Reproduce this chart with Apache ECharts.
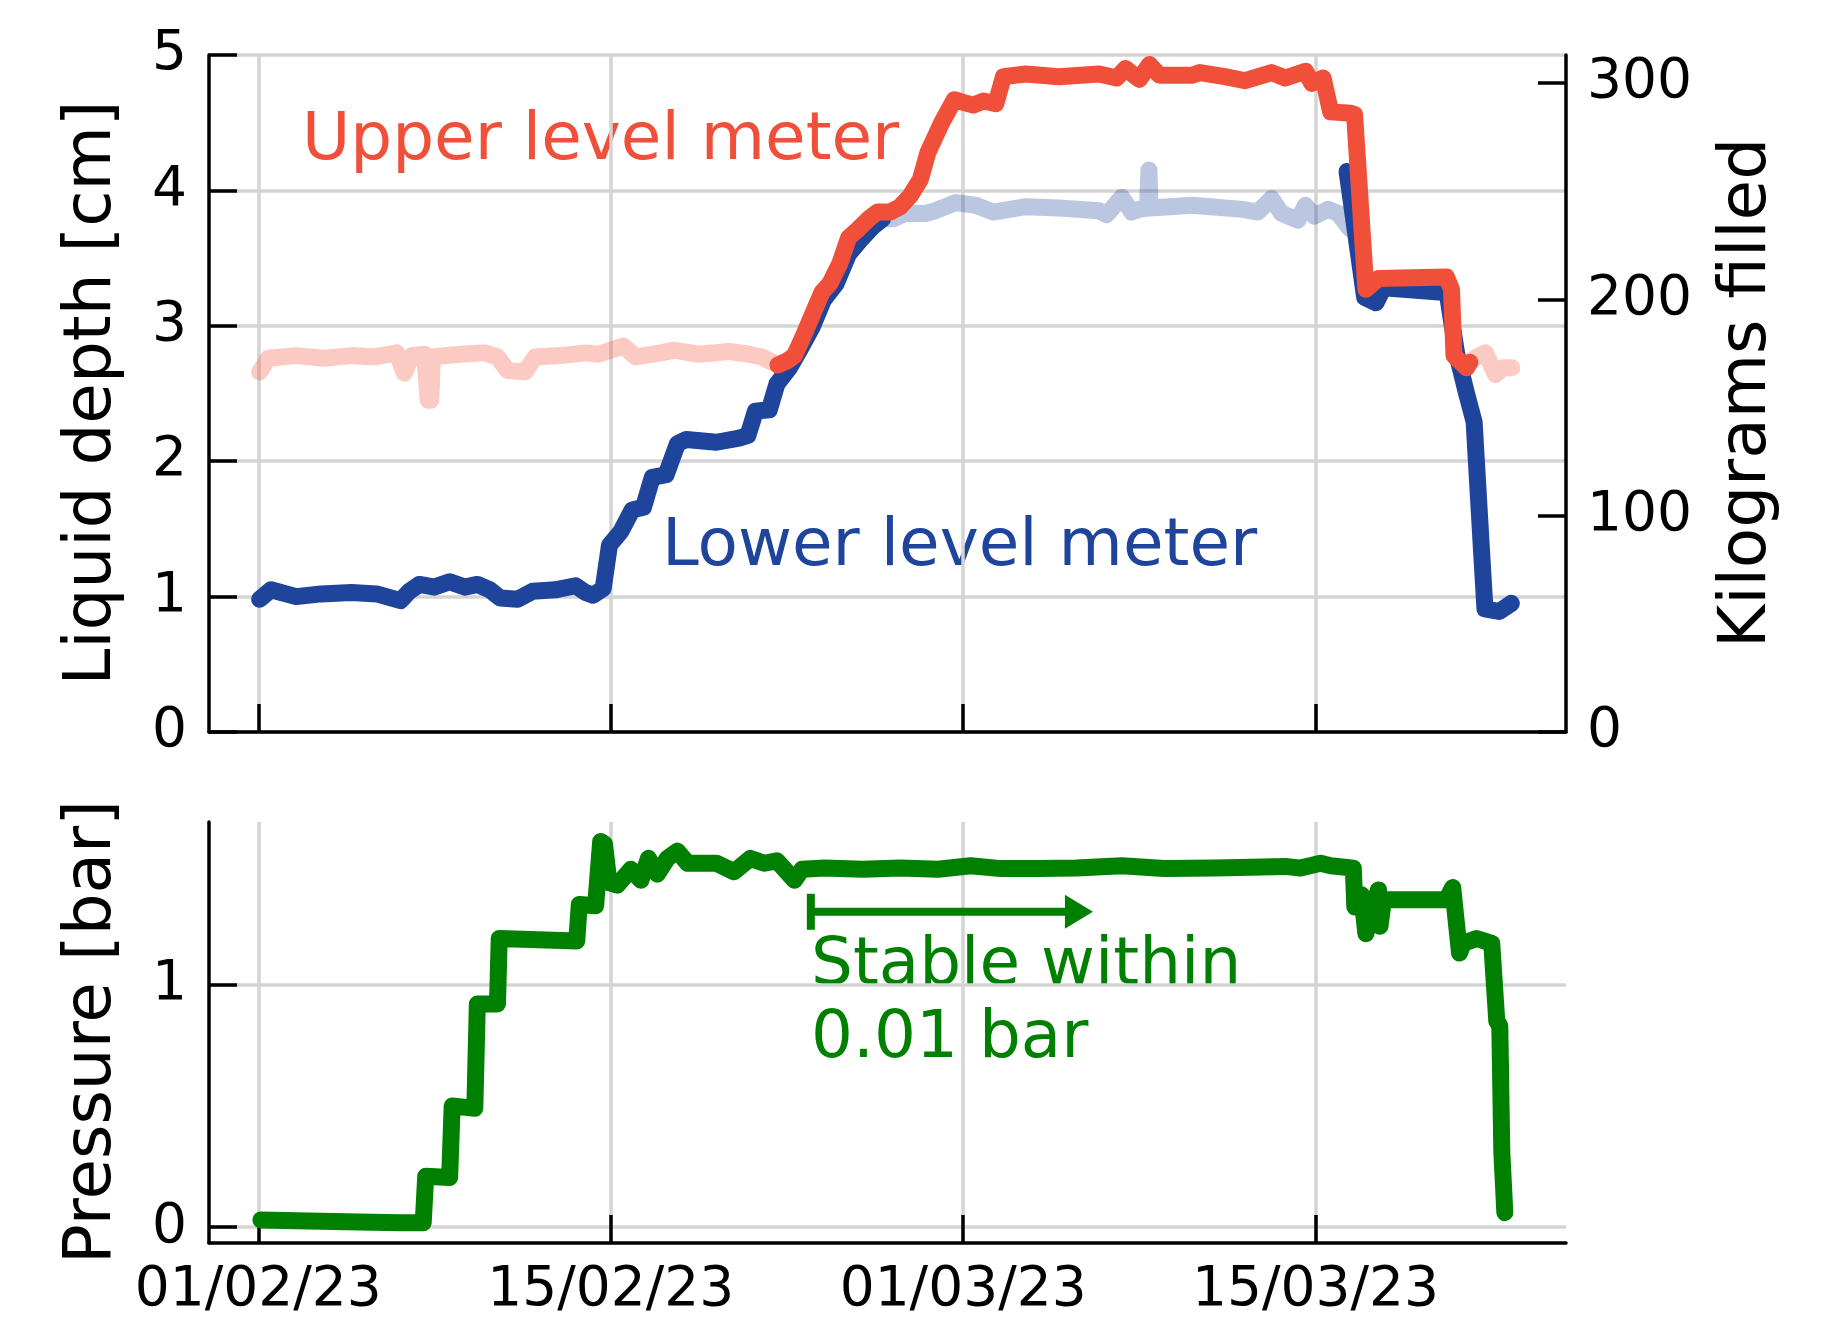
<!DOCTYPE html>
<html>
<head>
<meta charset="utf-8">
<script src="https://cdn.jsdelivr.net/npm/echarts@6/dist/echarts.min.js"></script>
<style>
  html, body { margin: 0; padding: 0; background: #fff; }
  #chart { width: 1833px; height: 1321px; }
</style>
</head>
<body>
<div id="chart"></div>
<script>
// x values are days counted from 01/02/23
const tickDays = [0, 14, 28, 42];
const tickLabels = ["01/02/23", "15/02/23", "01/03/23", "15/03/23"];
const kgTicks = [0, 100, 200, 300];
const pressureTicks = [0, 1];

// upper level meter [cm], faded where out of range
const upperPaleA = [
  [0.05, 2.66], [0.4, 2.76], [1.5, 2.78], [2.6, 2.76], [3.7, 2.78], [4.6, 2.77],
  [5.5, 2.8], [5.8, 2.65], [6.1, 2.78], [6.6, 2.79], [6.75, 2.45], [6.85, 2.45],
  [6.92, 2.77], [8.0, 2.79], [9.0, 2.8], [9.5, 2.77], [9.9, 2.67], [10.6, 2.66],
  [11.0, 2.77], [12.0, 2.78], [13.0, 2.8], [13.5, 2.79], [14.0, 2.82], [14.5, 2.85],
  [15.0, 2.77], [16.0, 2.8], [16.5, 2.82], [17.5, 2.79], [18.7, 2.81], [19.5, 2.79],
  [20.0, 2.77], [20.64, 2.71]
];
const upperSolid = [
  [20.64, 2.71], [21.0, 2.74], [21.3, 2.78], [21.64, 2.92], [22.03, 3.09], [22.4, 3.25],
  [22.7, 3.31], [23.1, 3.46], [23.45, 3.65], [23.75, 3.70], [24.25, 3.79], [24.6, 3.84],
  [25.1, 3.84], [25.5, 3.88], [25.9, 3.96], [26.3, 4.08], [26.6, 4.28], [27.15, 4.5],
  [27.65, 4.67], [28.0, 4.65], [28.4, 4.63], [28.8, 4.66], [29.3, 4.64], [29.6, 4.84],
  [30.5, 4.86], [31.8, 4.84], [33.4, 4.86], [34.1, 4.83], [34.45, 4.9], [35.0, 4.82],
  [35.4, 4.93], [35.8, 4.85], [37.1, 4.85], [37.4, 4.87], [38.4, 4.84], [39.2, 4.81],
  [40.25, 4.87], [40.8, 4.83], [41.6, 4.88], [41.85, 4.79], [42.3, 4.83], [42.6, 4.58],
  [43.4, 4.57], [43.55, 4.56], [44.0, 3.27], [44.5, 3.35], [47.2, 3.36], [47.4, 3.27],
  [47.5, 2.78], [48.0, 2.69], [48.13, 2.73]
];
const upperPaleB = [
  [48.13, 2.73], [48.4, 2.77], [48.75, 2.8], [49.15, 2.64], [49.45, 2.69], [49.8, 2.69]
];

// lower level meter [cm], faded where saturated
const lowerSolidA = [
  [0.05, 0.98], [0.5, 1.05], [1.5, 1.0], [2.5, 1.02], [3.7, 1.03], [4.7, 1.02],
  [5.65, 0.97], [6.0, 1.04], [6.4, 1.09], [7.0, 1.07], [7.6, 1.11], [8.2, 1.07],
  [8.7, 1.09], [9.2, 1.05], [9.6, 0.99], [10.3, 0.98], [10.9, 1.04], [11.8, 1.05],
  [12.6, 1.08], [13.0, 1.03], [13.3, 1.01], [13.7, 1.06], [13.95, 1.38], [14.4, 1.48],
  [14.85, 1.64], [15.3, 1.66], [15.65, 1.88], [16.2, 1.9], [16.65, 2.13], [17.0, 2.16],
  [18.2, 2.14], [19.1, 2.17], [19.45, 2.19], [19.75, 2.37], [20.3, 2.38], [20.6, 2.57],
  [21.1, 2.69], [21.5, 2.82], [22.0, 2.99], [22.45, 3.19], [22.95, 3.31], [23.45, 3.53],
  [23.9, 3.63], [24.4, 3.73], [24.8, 3.79]
];
const lowerPale = [
  [24.8, 3.79], [25.2, 3.79], [25.7, 3.83], [26.5, 3.83], [26.9, 3.85], [27.7, 3.91],
  [28.5, 3.89], [29.2, 3.84], [30.5, 3.88], [31.8, 3.87], [33.4, 3.85], [33.7, 3.82],
  [34.3, 3.95], [34.7, 3.84], [35.0, 3.86], [35.33, 3.87], [35.38, 4.15], [35.43, 3.87],
  [37.1, 3.89], [39.1, 3.86], [39.7, 3.84], [40.25, 3.94], [40.65, 3.83], [41.3, 3.78],
  [41.6, 3.89], [41.95, 3.81], [42.5, 3.86], [42.9, 3.83], [43.35, 3.72]
];
const lowerSolidB = [
  [43.25, 4.14], [43.95, 3.21], [44.4, 3.17], [44.7, 3.28], [46.9, 3.25], [47.2, 3.28],
  [47.6, 2.8], [48.0, 2.5], [48.3, 2.29], [48.6, 1.32], [48.73, 0.91], [49.3, 0.89],
  [49.78, 0.95]
];

// pressure [bar]
const pressure = [
  [0.1, 0.03], [2.0, 0.026], [4.0, 0.022], [5.7, 0.018], [6.55, 0.018], [6.65, 0.21],
  [7.6, 0.205], [7.7, 0.5], [8.6, 0.49], [8.7, 0.92], [9.5, 0.92], [9.57, 1.19],
  [12.65, 1.18], [12.75, 1.33], [13.4, 1.325], [13.6, 1.59], [13.75, 1.58], [13.93, 1.42],
  [14.26, 1.41], [14.8, 1.475], [15.2, 1.43], [15.5, 1.52], [15.85, 1.455], [16.25, 1.52],
  [16.65, 1.55], [17.05, 1.5], [18.2, 1.5], [18.9, 1.465], [19.55, 1.52], [20.1, 1.5],
  [20.6, 1.51], [21.3, 1.43], [21.6, 1.475], [22.5, 1.48], [24.0, 1.475], [25.5, 1.48],
  [27.0, 1.475], [28.3, 1.49], [29.5, 1.478], [31.0, 1.478], [32.5, 1.48], [34.3, 1.49],
  [36.0, 1.478], [38.0, 1.48], [40.8, 1.487], [41.4, 1.48], [42.2, 1.5], [42.6, 1.49],
  [43.5, 1.48], [43.56, 1.32], [43.83, 1.37], [44.0, 1.21], [44.5, 1.39], [44.56, 1.24],
  [44.7, 1.35], [47.2, 1.35], [47.45, 1.4], [47.72, 1.13], [47.87, 1.17], [48.4, 1.19],
  [49.0, 1.17], [49.2, 0.85], [49.32, 0.83], [49.4, 0.31], [49.52, 0.06]
];

// "stable within 0.01 bar" arrow
const stableFrom = [21.95, 1.3];
const stableTo = [33.1, 1.3];

const RED = "#F05039";
const BLUE = "#1F449C";
const GREEN = "#008000";
const GRID = "#d4d4d4";
const FONT = "DejaVu Sans";
const TEXT_FONT = "66px 'DejaVu Sans'";

const chart = echarts.init(document.getElementById("chart"));

const spine = { show: true, onZero: false, lineStyle: { color: "#000", width: 3.5 } };
const tick = (vals) => ({
  show: true, inside: true, length: 28, customValues: vals,
  lineStyle: { color: "#000", width: 3.5 }
});
const label = { fontSize: 55, color: "#000", fontFamily: FONT };

function line(data, color, opacity, xi, yi, z) {
  return {
    type: "line", xAxisIndex: xi, yAxisIndex: yi, data: data,
    symbol: "none", z: z, silent: true,
    lineStyle: { color: color, width: 17, opacity: opacity, cap: "round", join: "round" }
  };
}

chart.setOption({
  animation: false,
  backgroundColor: "#fff",
  textStyle: { fontFamily: FONT },
  grid: [
    { left: 209, top: 55, width: 1357, height: 677 },
    { left: 209, top: 822, width: 1357, height: 421 }
  ],
  xAxis: [
    {
      gridIndex: 0, type: "value", min: -1.96, max: 51.95,
      axisLine: spine, axisTick: tick(tickDays),
      axisLabel: { show: false },
      splitLine: { show: true, lineStyle: { color: GRID, width: 3.5 } }
    },
    {
      gridIndex: 1, type: "value", min: -1.96, max: 51.95,
      axisLine: spine, axisTick: tick(tickDays),
      axisLabel: Object.assign({
        customValues: tickDays, margin: 20,
        formatter: (v) => tickLabels[tickDays.indexOf(v)]
      }, label),
      splitLine: { show: true, lineStyle: { color: GRID, width: 3.5 } }
    }
  ],
  yAxis: [
    {
      gridIndex: 0, type: "value", position: "left", min: 0, max: 5, interval: 1,
      axisLine: spine,
      axisTick: { show: true, inside: true, length: 28, lineStyle: { color: "#000", width: 3.5 } },
      axisLabel: Object.assign({ margin: 22 }, label),
      splitLine: { show: true, lineStyle: { color: GRID, width: 3.5 } }
    },
    {
      gridIndex: 0, type: "value", position: "right", min: 0, max: 313,
      axisLine: spine, axisTick: tick(kgTicks),
      axisLabel: Object.assign({ customValues: kgTicks, margin: 21 }, label),
      splitLine: { show: false }
    },
    {
      gridIndex: 1, type: "value", position: "left", min: -0.065, max: 1.67,
      axisLine: spine, axisTick: tick(pressureTicks),
      axisLabel: Object.assign({ customValues: pressureTicks, margin: 22 }, label),
      splitLine: { show: true, lineStyle: { color: GRID, width: 3.5 } }
    }
  ],
  series: [
    line(upperPaleA, RED, 0.3, 0, 0, 2),
    line(upperPaleB, RED, 0.3, 0, 0, 2),
    line(lowerPale, BLUE, 0.3, 0, 0, 2),
    line(lowerSolidA, BLUE, 1, 0, 0, 3),
    line(lowerSolidB, BLUE, 1, 0, 0, 3),
    line(upperSolid, RED, 1, 0, 0, 4),
    line(pressure, GREEN, 1, 1, 2, 3),
    {
      type: "line", xAxisIndex: 1, yAxisIndex: 2, symbol: "none", silent: true, z: 3,
      data: [stableFrom, [stableTo[0] - 0.5, stableTo[1]]],
      lineStyle: { color: GREEN, width: 8, cap: "butt" }
    },
    {
      type: "scatter", xAxisIndex: 1, yAxisIndex: 2, silent: true, z: 3,
      data: [[stableTo[0] - 0.5, stableTo[1]]],
      symbol: "triangle", symbolSize: [34, 28], symbolRotate: -90,
      itemStyle: { color: GREEN, opacity: 1 }
    },
    {
      type: "scatter", xAxisIndex: 1, yAxisIndex: 2, silent: true, z: 3,
      data: [stableFrom],
      symbol: "rect", symbolSize: [8, 36],
      itemStyle: { color: GREEN, opacity: 1 }
    }
  ],
  graphic: [
    { type: "text", x: 302, y: 142, style: { text: "Upper level meter", fill: RED, font: TEXT_FONT, verticalAlign: "middle" } },
    { type: "text", x: 662, y: 548, style: { text: "Lower level meter", fill: BLUE, font: TEXT_FONT, verticalAlign: "middle" } },
    { type: "text", x: 811, y: 967, style: { text: "Stable within", fill: GREEN, font: TEXT_FONT, verticalAlign: "middle" } },
    { type: "text", x: 811, y: 1040, style: { text: "0.01 bar", fill: GREEN, font: TEXT_FONT, verticalAlign: "middle" } },
    { type: "text", x: 93, y: 393, rotation: Math.PI / 2, style: { text: "Liquid depth [cm]", fill: "#000", font: TEXT_FONT, align: "center", verticalAlign: "middle" } },
    { type: "text", x: 1748, y: 393, rotation: Math.PI / 2, style: { text: "Kilograms filled", fill: "#000", font: TEXT_FONT, align: "center", verticalAlign: "middle" } },
    { type: "text", x: 93, y: 1032, rotation: Math.PI / 2, style: { text: "Pressure [bar]", fill: "#000", font: TEXT_FONT, align: "center", verticalAlign: "middle" } }
  ]
});
</script>
</body>
</html>
